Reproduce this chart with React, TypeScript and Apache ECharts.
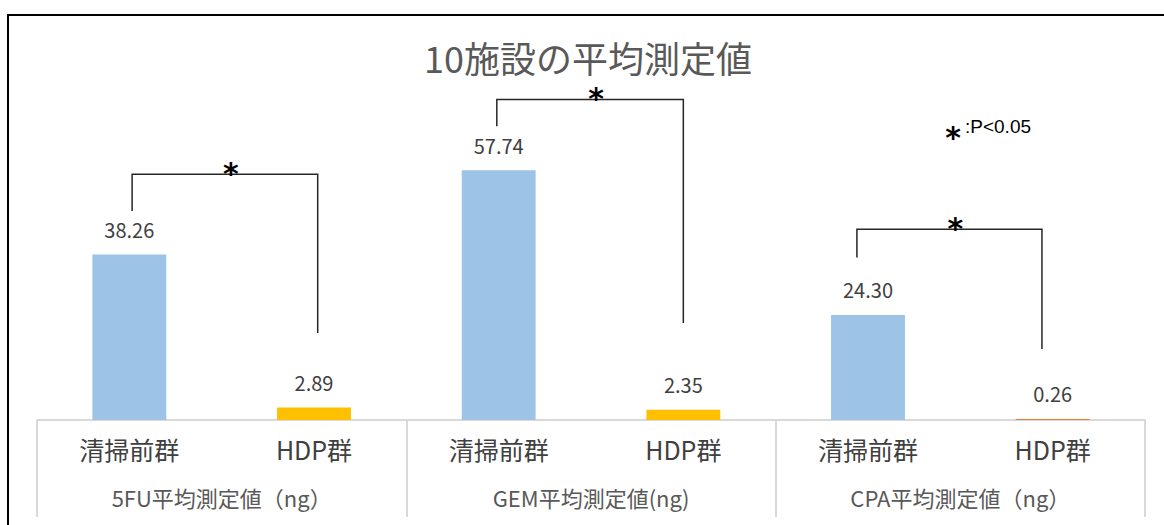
import React, { useEffect, useRef } from "react";
import * as echarts from "echarts";

const groupLabels = ["5FU平均測定値（ng）", "GEM平均測定値(ng)", "CPA平均測定値（ng）"];
const categories = ["清掃前群", "HDP群", "清掃前群", "HDP群", "清掃前群", "HDP群"];
const values = [38.26, 2.89, 57.74, 2.35, 24.3, 0.26];
const barColors = ["#9DC3E6", "#FFC000", "#9DC3E6", "#FFC000", "#9DC3E6", "#ED7D31"];
// [leftIdx, rightIdx, topValue, leftBottomValue, rightBottomValue, leftShift, rightShift]
const brackets = [
  [0, 1, 56.8, 48.3, 20.1, 0.015, 0.02],
  [2, 3, 74.1, 67.9, 22.4, -0.01, 0],
  [4, 5, 44.1, 37.6, 16.4, -0.06, -0.058],
];

const CJK = "'Noto Sans CJK JP', 'Noto Sans', sans-serif";
const AST = "'DejaVu Sans', sans-serif";

export default function App() {
  const ref = useRef<HTMLDivElement>(null);
  useEffect(() => {
    if (!ref.current) return;
    const chart = echarts.init(ref.current, undefined, { renderer: "svg" });
    chart.setOption({
      animation: false,
      backgroundColor: "#ffffff",
      title: {
        text: "10施設の平均測定値",
        left: 424,
        top: 37,
        padding: 0,
        textStyle: { fontSize: 36, lineHeight: 40, fontWeight: "normal", color: "#595959", fontFamily: CJK },
      },
      grid: { left: 37, right: 19, top: 74, bottom: 105, containLabel: false },
      xAxis: [
        {
          type: "category",
          data: categories,
          position: "bottom",
          axisLine: { show: true, lineStyle: { color: "#d9d9d9", width: 2 } },
          axisTick: { show: false },
          axisLabel: { fontSize: 25, color: "#404040", margin: 16, fontFamily: CJK, interval: 0 },
          splitLine: { show: false },
        },
        {
          type: "category",
          data: groupLabels,
          position: "bottom",
          boundaryGap: true,
          axisLine: { show: false },
          axisTick: { show: true, length: 97, lineStyle: { color: "#d9d9d9", width: 2 } },
          axisLabel: { fontSize: 22, color: "#595959", margin: 66, fontFamily: CJK, interval: 0 },
          splitLine: { show: false },
        },
      ],
      yAxis: {
        type: "value",
        min: 0,
        max: 80,
        show: false,
        splitLine: { show: false },
      },
      graphic: [
        {
          type: "rect",
          shape: { x: 8, y: 15, width: 1200, height: 600 },
          style: { fill: "none", stroke: "#000000", lineWidth: 2 },
          z: 100,
        },
        {
          type: "text",
          x: 953,
          y: 137,
          style: {
            text: "*",
            fontSize: 30,
            lineHeight: 16,
            fontWeight: "bold",
            fill: "#000000",
            fontFamily: AST,
            align: "center",
            verticalAlign: "middle",
          },
        },
        {
          type: "text",
          x: 965,
          y: 126,
          style: {
            text: ":P<0.05",
            fontSize: 19,
            fill: "#000000",
            fontFamily: "'Liberation Sans', Arial, sans-serif",
            align: "left",
            verticalAlign: "middle",
          },
        },
      ],
      series: [
        {
          type: "bar",
          xAxisIndex: 0,
          yAxisIndex: 0,
          barWidth: "40%",
          data: values.map((v, i) => ({ value: v, itemStyle: { color: barColors[i] } })),
          label: {
            show: true,
            position: "top",
            distance: 15,
            fontSize: 20,
            color: "#404040",
            fontFamily: CJK,
            formatter: (p: any) => Number(p.value).toFixed(2),
          },
        },
        {
          type: "custom",
          xAxisIndex: 0,
          yAxisIndex: 0,
          clip: false,
          z: 10,
          encode: { x: 0, y: 2 },
          data: brackets,
          renderItem: (params: any, api: any) => {
            const band = api.size([1, 0])[0];
            const l = api.coord([api.value(0), api.value(2)]);
            const r = api.coord([api.value(1), api.value(2)]);
            const lb = api.coord([api.value(0), api.value(3)]);
            const rb = api.coord([api.value(1), api.value(4)]);
            const xl = l[0] + api.value(5) * band;
            const xr = r[0] + api.value(6) * band;
            const yt = l[1];
            return {
              type: "group",
              children: [
                {
                  type: "polyline",
                  shape: { points: [[xl, lb[1]], [xl, yt], [xr, yt], [xr, rb[1]]] },
                  style: { stroke: "#262626", lineWidth: 1.5, fill: "none" },
                },
                {
                  type: "text",
                  x: (xl + xr) / 2 + 6,
                  y: yt - 1,
                  style: {
                    text: "*",
                    fontSize: 30,
                    lineHeight: 16,
                    fontWeight: "bold",
                    fill: "#000000",
                    fontFamily: AST,
                    align: "center",
                    verticalAlign: "middle",
                  },
                },
              ],
            };
          },
        },
      ],
    });
    return () => chart.dispose();
  }, []);
  return (
    <div
      ref={ref}
      style={{ position: "absolute", left: 0, top: 0, width: 1164, height: 525 }}
    />
  );
}
